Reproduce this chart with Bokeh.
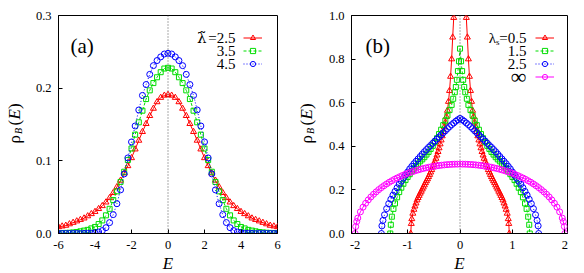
import math
from bokeh.plotting import figure
from bokeh.layouts import row
from bokeh.models import (FixedTicker, PrintfTickFormatter, Span, Label, Legend,
                          LegendItem, Range1d)
from bokeh.core.properties import value
from bokeh.embed import file_html
from bokeh.resources import INLINE

# ---------------- data: panel (a) ----------------
E_a = [-6.0, -5.8, -5.6, -5.4, -5.2, -5.0, -4.8, -4.6, -4.4, -4.2, -4.0, -3.8, -3.6, -3.4,
       -3.2, -3.0, -2.8, -2.6, -2.4, -2.2, -2.0, -1.8, -1.6, -1.4, -1.2, -1.0, -0.8, -0.6,
       -0.4, -0.2, 0.0, 0.2, 0.4, 0.6, 0.8, 1.0, 1.2, 1.4, 1.6, 1.8, 2.0, 2.2, 2.4, 2.6, 2.8,
       3.0, 3.2, 3.4, 3.6, 3.8, 4.0, 4.2, 4.4, 4.6, 4.8, 5.0, 5.2, 5.4, 5.6, 5.8, 6.0]
rho_a_25 = [0.009, 0.010, 0.011, 0.013, 0.015, 0.017, 0.019, 0.021, 0.024, 0.027, 0.030,
            0.034, 0.038, 0.043, 0.049, 0.056, 0.064, 0.073, 0.083, 0.093, 0.104, 0.116,
            0.128, 0.140, 0.151, 0.162, 0.172, 0.181, 0.187, 0.190, 0.191, 0.190, 0.187,
            0.181, 0.172, 0.162, 0.151, 0.140, 0.128, 0.116, 0.104, 0.093, 0.083, 0.073,
            0.064, 0.056, 0.049, 0.043, 0.038, 0.034, 0.030, 0.027, 0.024, 0.021, 0.019,
            0.017, 0.015, 0.013, 0.011, 0.010, 0.009]
rho_a_35 = [0.0003, 0.0005, 0.0008, 0.001, 0.0015, 0.002, 0.003, 0.004, 0.005, 0.007, 0.009,
            0.013, 0.018, 0.025, 0.034, 0.046, 0.058, 0.071, 0.085, 0.101, 0.117, 0.136,
            0.153, 0.169, 0.185, 0.197, 0.207, 0.215, 0.222, 0.227, 0.228, 0.227, 0.222,
            0.215, 0.207, 0.197, 0.185, 0.169, 0.153, 0.136, 0.117, 0.101, 0.085, 0.071,
            0.058, 0.046, 0.034, 0.025, 0.018, 0.013, 0.009, 0.007, 0.005, 0.004, 0.003,
            0.002, 0.0015, 0.001, 0.0008, 0.0005, 0.0003]
rho_a_45 = [0.0, 0.0, 0.0, 0.0, 0.0, 0.0, 0.0, 0.0001, 0.0002, 0.0005, 0.001, 0.002, 0.004,
            0.008, 0.015, 0.026, 0.041, 0.060, 0.082, 0.104, 0.126, 0.148, 0.170, 0.190,
            0.205, 0.219, 0.231, 0.238, 0.243, 0.247, 0.248, 0.247, 0.243, 0.238, 0.231,
            0.219, 0.205, 0.190, 0.170, 0.148, 0.126, 0.104, 0.082, 0.060, 0.041, 0.026,
            0.015, 0.008, 0.004, 0.002, 0.001, 0.0005, 0.0002, 0.0001, 0.0, 0.0, 0.0, 0.0,
            0.0, 0.0, 0.0]
labels_a = ["=2.5", "3.5", "4.5"]

# ---------------- data: panel (b) ----------------
E_b_05 = [-0.94, -0.93, -0.92, -0.90, -0.88, -0.86, -0.84, -0.82, -0.80, -0.78, -0.76, -0.74,
          -0.72, -0.70, -0.68, -0.66, -0.64, -0.62, -0.60, -0.58, -0.56, -0.54, -0.52, -0.50,
          -0.48, -0.46, -0.44, -0.42, -0.40, -0.38, -0.36, -0.34, -0.32, -0.30, -0.28, -0.26,
          -0.24, -0.22, -0.20, -0.18, -0.16, -0.14, -0.12, -0.10, -0.08, -0.04, 0.0,
          0.04, 0.08, 0.10, 0.12, 0.14, 0.16, 0.18, 0.20, 0.22, 0.24, 0.26, 0.28, 0.30, 0.32,
          0.34, 0.36, 0.38, 0.40, 0.42, 0.44, 0.46, 0.48, 0.50, 0.52, 0.54, 0.56, 0.58, 0.60,
          0.62, 0.64, 0.66, 0.68, 0.70, 0.72, 0.74, 0.76, 0.78, 0.80, 0.82, 0.84, 0.86, 0.88,
          0.90, 0.92, 0.93, 0.94]
rho_b_05 = [0.0, 0.045, 0.067, 0.092, 0.110, 0.125, 0.139, 0.153, 0.164, 0.174, 0.184, 0.193,
            0.203, 0.212, 0.222, 0.232, 0.241, 0.250, 0.260, 0.270, 0.281, 0.292, 0.304, 0.316,
            0.330, 0.344, 0.359, 0.375, 0.392, 0.410, 0.428, 0.447, 0.467, 0.488, 0.510, 0.536,
            0.564, 0.605, 0.655, 0.720, 0.800, 0.900, 0.990, 1.04, 1.15, 1.6, 2.5,
            1.6, 1.15, 1.04, 0.990, 0.900, 0.800, 0.720, 0.655, 0.605, 0.564, 0.536, 0.510,
            0.488, 0.467, 0.447, 0.428, 0.410, 0.392, 0.375, 0.359, 0.344, 0.330, 0.316, 0.304,
            0.292, 0.281, 0.270, 0.260, 0.250, 0.241, 0.232, 0.222, 0.212, 0.203, 0.193, 0.184,
            0.174, 0.164, 0.153, 0.139, 0.125, 0.110, 0.092, 0.067, 0.045, 0.0]
E_b_15 = [-1.33, -1.32, -1.30, -1.27, -1.24, -1.20, -1.16, -1.12, -1.08, -1.04, -1.00, -0.96,
          -0.92, -0.88, -0.84, -0.80, -0.76, -0.72, -0.68, -0.64, -0.60, -0.56, -0.52, -0.48,
          -0.44, -0.40, -0.36, -0.32, -0.28, -0.24, -0.20, -0.16, -0.13, -0.10, -0.08, -0.06,
          -0.04, -0.02, 0.0, 0.02, 0.04, 0.06, 0.08, 0.10, 0.13, 0.16, 0.20, 0.24, 0.28, 0.32,
          0.36, 0.40, 0.44, 0.48, 0.52, 0.56, 0.60, 0.64, 0.68, 0.72, 0.76, 0.80, 0.84, 0.88,
          0.92, 0.96, 1.00, 1.04, 1.08, 1.12, 1.16, 1.20, 1.24, 1.27, 1.30, 1.32, 1.33]
rho_b_15 = [0.0, 0.040, 0.077, 0.113, 0.138, 0.166, 0.190, 0.210, 0.228, 0.245, 0.259, 0.272,
            0.285, 0.297, 0.309, 0.320, 0.331, 0.340, 0.350, 0.362, 0.374, 0.388, 0.402, 0.419,
            0.437, 0.456, 0.476, 0.497, 0.518, 0.541, 0.566, 0.590, 0.618, 0.648, 0.672, 0.705,
            0.745, 0.790, 0.848, 0.790, 0.745, 0.705, 0.672, 0.648, 0.618, 0.590, 0.566, 0.541,
            0.518, 0.497, 0.476, 0.456, 0.437, 0.419, 0.402, 0.388, 0.374, 0.362, 0.350, 0.340,
            0.331, 0.320, 0.309, 0.297, 0.285, 0.272, 0.259, 0.245, 0.228, 0.210, 0.190, 0.166,
            0.138, 0.113, 0.077, 0.040, 0.0]
E_b_25 = [-1.50, -1.49, -1.47, -1.44, -1.40, -1.36, -1.32, -1.28, -1.24, -1.20, -1.16, -1.12,
          -1.08, -1.04, -1.00, -0.96, -0.92, -0.88, -0.84, -0.80, -0.76, -0.72, -0.68, -0.64,
          -0.60, -0.56, -0.52, -0.48, -0.44, -0.40, -0.36, -0.32, -0.28, -0.24, -0.20, -0.16,
          -0.12, -0.08, -0.04, 0.0, 0.04, 0.08, 0.12, 0.16, 0.20, 0.24, 0.28, 0.32, 0.36, 0.40,
          0.44, 0.48, 0.52, 0.56, 0.60, 0.64, 0.68, 0.72, 0.76, 0.80, 0.84, 0.88, 0.92, 0.96,
          1.00, 1.04, 1.08, 1.12, 1.16, 1.20, 1.24, 1.28, 1.32, 1.36, 1.40, 1.44, 1.47, 1.49,
          1.50]
rho_b_25 = [0.0, 0.035, 0.060, 0.086, 0.114, 0.137, 0.157, 0.176, 0.193, 0.210, 0.226, 0.240,
            0.254, 0.268, 0.282, 0.296, 0.308, 0.320, 0.331, 0.342, 0.353, 0.364, 0.375, 0.385,
            0.395, 0.404, 0.414, 0.424, 0.433, 0.443, 0.452, 0.462, 0.471, 0.481, 0.490, 0.499,
            0.507, 0.515, 0.522, 0.528, 0.522, 0.515, 0.507, 0.499, 0.490, 0.481, 0.471, 0.462,
            0.452, 0.443, 0.433, 0.424, 0.414, 0.404, 0.395, 0.385, 0.375, 0.364, 0.353, 0.342,
            0.331, 0.320, 0.308, 0.296, 0.282, 0.268, 0.254, 0.240, 0.226, 0.210, 0.193, 0.176,
            0.157, 0.137, 0.114, 0.086, 0.060, 0.035, 0.0]
E_b_inf = [-2.0, -1.99, -1.97, -1.95, -1.9, -1.85, -1.8, -1.75, -1.7, -1.65, -1.6, -1.55, -1.5,
           -1.45, -1.4, -1.35, -1.3, -1.25, -1.2, -1.15, -1.1, -1.05, -1.0, -0.95, -0.9, -0.85,
           -0.8, -0.75, -0.7, -0.65, -0.6, -0.55, -0.5, -0.45, -0.4, -0.35, -0.3, -0.25, -0.2,
           -0.15, -0.1, -0.05, 0.0, 0.05, 0.1, 0.15, 0.2, 0.25, 0.3, 0.35, 0.4, 0.45, 0.5, 0.55,
           0.6, 0.65, 0.7, 0.75, 0.8, 0.85, 0.9, 0.95, 1.0, 1.05, 1.1, 1.15, 1.2, 1.25, 1.3,
           1.35, 1.4, 1.45, 1.5, 1.55, 1.6, 1.65, 1.7, 1.75, 1.8, 1.85, 1.9, 1.95, 1.97, 1.99,
           2.0]
rho_b_inf = [0.0, 0.0318, 0.0549, 0.0707, 0.0994, 0.1209, 0.1387, 0.1541, 0.1677, 0.1799,
             0.1910, 0.2012, 0.2105, 0.2192, 0.2273, 0.2349, 0.2419, 0.2485, 0.2546, 0.2604,
             0.2658, 0.2709, 0.2757, 0.2801, 0.2843, 0.2881, 0.2917, 0.2951, 0.2982, 0.3010,
             0.3037, 0.3060, 0.3082, 0.3101, 0.3119, 0.3134, 0.3147, 0.3158, 0.3167, 0.3174,
             0.3179, 0.3182, 0.3183, 0.3182, 0.3179, 0.3174, 0.3167, 0.3158, 0.3147, 0.3134,
             0.3119, 0.3101, 0.3082, 0.3060, 0.3037, 0.3010, 0.2982, 0.2951, 0.2917, 0.2881,
             0.2843, 0.2801, 0.2757, 0.2709, 0.2658, 0.2604, 0.2546, 0.2485, 0.2419, 0.2349,
             0.2273, 0.2192, 0.2105, 0.2012, 0.1910, 0.1799, 0.1677, 0.1541, 0.1387, 0.1209,
             0.0994, 0.0707, 0.0549, 0.0318, 0.0]
labels_b = ["1.5", "2.5", "∞"]

xticks_a = [-6, -4, -2, 0, 2, 4, 6]
yticks_a = [0.0, 0.1, 0.2, 0.3]
xticks_b = [-2, -1, 0, 1, 2]
yticks_b = [0.0, 0.2, 0.4, 0.6, 0.8, 1.0]

for xs, ys in [(E_a, rho_a_25), (E_a, rho_a_35), (E_a, rho_a_45), (E_b_05, rho_b_05),
               (E_b_15, rho_b_15), (E_b_25, rho_b_25), (E_b_inf, rho_b_inf)]:
    assert len(xs) == len(ys), (len(xs), len(ys))

SERIF = "Liberation Serif"
RED, GREEN, BLUE, MAGENTA = "#ff0000", "#00dd00", "#0000ff", "#ff00ff"
LABEL_W = 27


def ylabel_fig():
    """Narrow strip holding the rotated y-axis title rho_B(E)."""
    q = figure(frame_width=LABEL_W, frame_height=218, x_range=Range1d(0, 1),
               y_range=Range1d(0, 1), x_axis_type=None, y_axis_type=None,
               output_backend="svg", toolbar_location=None,
               min_border_left=0, min_border_right=0, min_border_top=15, min_border_bottom=40)
    q.grid.visible = False
    q.outline_line_color = None
    q.background_fill_color = "white"
    q.border_fill_color = "white"
    common = dict(x_units="screen", y_units="screen", angle=math.pi / 2,
                  text_align="left", text_baseline="middle", text_color="black",
                  text_font=SERIF)
    q.add_layout(Label(x=14, y=90, text="ρ", text_font_size="17px", **common))
    q.add_layout(Label(x=17.5, y=99.5, text="B", text_font_size="10px",
                       text_font_style="italic", **common))
    q.add_layout(Label(x=14, y=108, text="(", text_font_size="17px", **common))
    q.add_layout(Label(x=14, y=114, text="E", text_font_size="17px",
                       text_font_style="italic", **common))
    q.add_layout(Label(x=14, y=124.5, text=")", text_font_size="17px", **common))
    return q


def make_fig(xr, yr, xt, yt, fw, bl, br):
    p = figure(frame_width=fw, frame_height=218, x_range=Range1d(*xr), y_range=Range1d(*yr),
               output_backend="svg", toolbar_location=None,
               min_border_left=bl, min_border_right=br, min_border_top=15,
               min_border_bottom=40)
    p.grid.visible = False
    p.outline_line_color = "black"
    p.outline_line_alpha = 1.0
    p.outline_line_width = 1
    p.background_fill_color = "white"
    p.border_fill_color = "white"
    p.xaxis.ticker = FixedTicker(ticks=xt)
    p.yaxis.ticker = FixedTicker(ticks=yt)
    p.xaxis.formatter = PrintfTickFormatter(format="%d")
    p.yaxis.formatter = PrintfTickFormatter(format="%.1f")
    for ax in (p.xaxis[0], p.yaxis[0]):
        ax.major_tick_in = 4
        ax.major_tick_out = 0
        ax.minor_tick_in = 0
        ax.minor_tick_out = 0
        ax.axis_line_color = "black"
        ax.major_tick_line_color = "black"
        ax.major_label_text_font = SERIF
        ax.major_label_text_font_size = "12.5px"
        ax.major_label_text_color = "black"
    p.xaxis.major_label_standoff = 7
    p.yaxis.major_label_standoff = 7
    p.xaxis.axis_label = "E"
    p.xaxis.axis_label_text_font = SERIF
    p.xaxis.axis_label_text_font_style = "italic"
    p.xaxis.axis_label_text_font_size = "17px"
    p.xaxis.axis_label_text_color = "black"
    p.xaxis.axis_label_standoff = 2
    p.add_layout(Span(location=0, dimension="height", line_color="#555555",
                      line_dash="1 2", line_width=1))
    return p


def series(p, xs, ys, color, marker, dash, size):
    ln = p.line(xs, ys, line_color=color, line_width=1, line_dash=dash)
    sc = p.scatter(xs, ys, marker=marker, size=size, line_color=color, fill_color=None,
                   line_width=1)
    return [ln, sc]


def add_legend(p, items, x, y, row_h):
    leg = Legend(items=[LegendItem(label=value(" "), renderers=r) for r in items],
                 location=(x, y), orientation="vertical", glyph_width=19,
                 glyph_height=row_h, label_width=0, label_height=row_h,
                 label_standoff=0, spacing=0, padding=0, margin=0,
                 border_line_color=None, background_fill_alpha=0,
                 label_text_font_size="1px")
    p.add_layout(leg)


lab = dict(x_units="screen", y_units="screen", text_baseline="middle", text_font=SERIF,
           text_color="black")

# ---------------- panel (a) ----------------
p1 = make_fig((-6, 6), (0, 0.3), xticks_a, yticks_a, 219, 58 - LABEL_W, 15)
ra = series(p1, E_a, rho_a_25, RED, "triangle", "solid", 6)
ga = series(p1, E_a, rho_a_35, GREEN, "square", "3 2", 5)
ba = series(p1, E_a, rho_a_45, BLUE, "circle", "1 2", 6)
add_legend(p1, [ra, ga, ba], 185, 163, 13)
p1.add_layout(Label(x=148, y=196, text="λ̃", text_align="right", text_font_size="15px",
                    **{**lab, "text_font": "DejaVu Serif"}))
for i, t in enumerate(labels_a):
    p1.add_layout(Label(x=177, y=196 - 13 * i, text=t, text_align="right",
                        text_font_size="15px", **lab))
p1.add_layout(Label(x=12, y=188, text="(a)", text_font_size="21px", **lab))

# ---------------- panel (b) ----------------
p2 = make_fig((-2.07, 2.05), (0, 1.0), xticks_b, yticks_b, 216, 59 - LABEL_W, 9)
rb = series(p2, E_b_05, rho_b_05, RED, "triangle", "solid", 6)
gb = series(p2, E_b_15, rho_b_15, GREEN, "square", "3 2", 5)
bb = series(p2, E_b_25, rho_b_25, BLUE, "circle", "1 2", 6)
mb = series(p2, E_b_inf, rho_b_inf, MAGENTA, "circle", "solid", 6)
add_legend(p2, [rb, gb, bb, mb], 184, 150, 13)
p2.add_layout(Label(x=175, y=195.7, text="=0.5", text_align="right", text_font_size="15px", **lab))
p2.add_layout(Label(x=148, y=192, text="s", text_align="right", text_font_size="9px", **lab))
p2.add_layout(Label(x=144.5, y=195.7, text="λ", text_align="right", text_font_size="15px", **lab))
for i, t in enumerate(labels_b):
    p2.add_layout(Label(x=175, y=182.7 - 13 * i, text=t, text_align="right",
                        text_font_size="22px" if t == "∞" else "15px", **lab))
p2.add_layout(Label(x=14, y=188, text="(b)", text_font_size="21px", **lab))

layout = row(ylabel_fig(), p1, ylabel_fig(), p2)
open("out.html", "w").write(file_html(layout, INLINE))
